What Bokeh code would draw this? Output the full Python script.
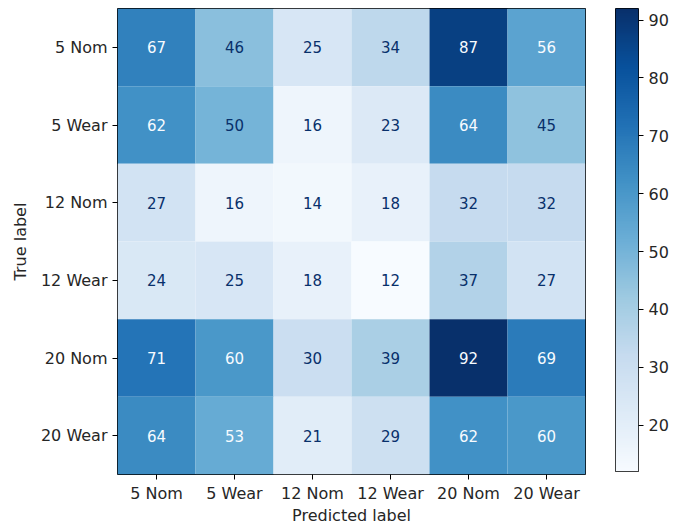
import numpy as np
from bokeh.plotting import figure
from bokeh.layouts import row
from bokeh.models import (ColumnDataSource, LinearColorMapper, FixedTicker,
                          FactorRange, Range1d)
from bokeh.palettes import Blues256
from bokeh.core.properties import value
from bokeh.embed import file_html
from bokeh.resources import INLINE

# Confusion matrix: rows are true labels, columns are predicted labels
labels = ["5 Nom", "5 Wear", "12 Nom", "12 Wear", "20 Nom", "20 Wear"]
counts = [
    [67, 46, 25, 34, 87, 56],
    [62, 50, 16, 23, 64, 45],
    [27, 16, 14, 18, 32, 32],
    [24, 25, 18, 12, 37, 27],
    [71, 60, 30, 39, 92, 69],
    [64, 53, 21, 29, 62, 60],
]
colorbar_ticks = [20, 30, 40, 50, 60, 70, 80, 90]

FONT = "DejaVu Sans"
FS = "16px"
TXT = "#262626"
palette = list(reversed(Blues256))
vmin = min(min(r) for r in counts)
vmax = max(max(r) for r in counts)
mapper = LinearColorMapper(palette=palette, low=vmin, high=vmax)
thresh = (vmin + vmax) / 2.0

xs, ys, vals, txt, tcol = [], [], [], [], []
for i, r in enumerate(counts):
    for j, v in enumerate(r):
        xs.append(labels[j])
        ys.append(labels[i])
        vals.append(v)
        txt.append(str(v))
        tcol.append("#f7fbff" if v >= thresh else "#08306b")

src = ColumnDataSource(dict(x=xs, y=ys, v=vals, t=txt, c=tcol))

p = figure(
    x_range=FactorRange(*labels),
    y_range=FactorRange(*reversed(labels)),
    frame_width=468, frame_height=466,
    min_border_left=117, min_border_top=6, min_border_bottom=54,
    min_border_right=30,
    output_backend="svg", toolbar_location=None,
    background_fill_color="white", border_fill_color="white",
)

p.rect(x="x", y="y", width=1, height=1, source=src,
       fill_color={"field": "v", "transform": mapper}, line_color=None)
p.text(x="x", y="y", text="t", source=src, text_color="c",
       text_align="center", text_baseline="middle",
       text_font=value(FONT), text_font_size="15px")

p.outline_line_color = "black"
p.outline_line_width = 1
p.grid.visible = False


def style_axis(ax):
    ax.axis_line_color = None
    ax.major_tick_line_color = "black"
    ax.major_tick_out = 5
    ax.major_tick_in = 0
    ax.minor_tick_line_color = None
    ax.major_label_text_font = FONT
    ax.major_label_text_font_size = FS
    ax.major_label_text_color = TXT
    ax.axis_label_text_font = FONT
    ax.axis_label_text_font_size = FS
    ax.axis_label_text_font_style = "normal"
    ax.axis_label_text_color = TXT


style_axis(p.xaxis[0])
style_axis(p.yaxis[0])
p.xaxis.axis_label = "Predicted label"
p.yaxis.axis_label = "True label"
p.xaxis.major_label_standoff = 4
p.yaxis.major_label_standoff = 5
p.xaxis.axis_label_standoff = 0
p.yaxis.axis_label_standoff = 8

# Colour scale as its own narrow panel with a right-hand axis
cb = figure(
    x_range=Range1d(0, 1), y_range=Range1d(vmin, vmax),
    frame_width=23, frame_height=463,
    min_border_left=0, min_border_top=8, min_border_bottom=55,
    min_border_right=50, y_axis_location="right",
    output_backend="svg", toolbar_location=None,
    background_fill_color="white", border_fill_color="white",
)
grad = np.linspace(vmin, vmax, 256).reshape(-1, 1)
cb.image(image=[grad], x=0, y=vmin, dw=1, dh=vmax - vmin, color_mapper=mapper)
cb.xaxis.visible = False
cb.grid.visible = False
cb.outline_line_color = "black"
cb.outline_line_width = 1
cb.yaxis.ticker = FixedTicker(ticks=colorbar_ticks)
style_axis(cb.yaxis[0])
cb.yaxis.major_label_standoff = 5

layout = row(p, cb, spacing=0)
open("out.html", "w").write(file_html(layout, INLINE))
